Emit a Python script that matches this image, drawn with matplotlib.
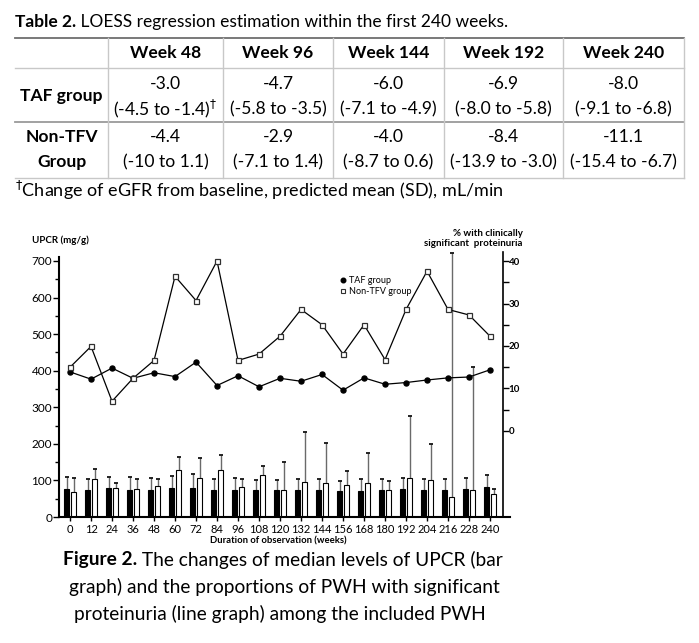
import numpy as np
import matplotlib
matplotlib.use('Agg')
import matplotlib.pyplot as plt
from matplotlib.lines import Line2D
from matplotlib.ticker import MultipleLocator, FixedLocator

plt.rcParams['font.family'] = ['Lato', 'DejaVu Sans']
plt.rcParams['mathtext.fontset'] = 'dejavusans'

# ---- table data ----
col_headers = ['Week 48', 'Week 96', 'Week 144', 'Week 192', 'Week 240']
taf_est = ['-3.0', '-4.7', '-6.0', '-6.9', '-8.0']
taf_ci = ['(-4.5 to -1.4)', '(-5.8 to -3.5)', '(-7.1 to -4.9)', '(-8.0 to -5.8)', '(-9.1 to -6.8)']
non_est = ['-4.4', '-2.9', '-4.0', '-8.4', '-11.1']
non_ci = ['(-10 to 1.1)', '(-7.1 to 1.4)', '(-8.7 to 0.6)', '(-13.9 to -3.0)', '(-15.4 to -6.7)']

# ---- chart data ----
weeks = np.array([0, 12, 24, 36, 48, 60, 72, 84, 96, 108, 120, 132, 144, 156, 168, 180, 192, 204, 216, 228, 240])
taf_upcr = [77, 75, 79, 75, 74, 78, 78, 75, 75, 75, 74, 74, 74, 72, 71, 75, 77, 74, 75, 76, 82]
taf_upcr_err = [109, 104, 109, 109, 106, 112, 118, 104, 106, 101, 101, 104, 104, 98, 104, 105, 107, 104, 104, 108, 116]
non_upcr = [68, 103, 80, 77, 85, 129, 106, 129, 83, 115, 73, 96, 94, 87, 93, 74, 106, 102, 55, 73, 63]
non_upcr_err = [106, 131, 94, 104, 104, 164, 161, 170, 104, 139, 150, 232, 202, 125, 175, 98, 275, 200, 722, 409, 77]
taf_pct = [13.9, 12.2, 14.8, 12.4, 13.7, 12.8, 16.2, 10.7, 13.0, 10.4, 12.4, 11.7, 13.3, 9.6, 12.5, 11.0, 11.4, 12.0, 12.5, 12.7, 14.4]
non_pct = [15.0, 19.9, 7.0, 12.4, 16.6, 36.4, 30.7, 40.0, 16.6, 18.1, 22.3, 28.6, 25.0, 18.1, 25.0, 16.8, 28.6, 37.6, 28.6, 27.3, 22.3]

W, H = 699, 643
fig = plt.figure(figsize=(W / 100, H / 100), dpi=100)
bg = fig.add_axes([0, 0, 1, 1])
bg.set_xlim(0, W)
bg.set_ylim(H, 0)
bg.axis('off')
renderer = fig.canvas.get_renderer()


def rich_line(x, y, parts, size, ha='left'):
    # parts: list of (text, weight); draws them side by side
    widths = []
    arts = []
    for txt, wt in parts:
        t = bg.text(0, y, txt, fontsize=size, fontweight=wt, va='center', ha='left')
        bb = t.get_window_extent(renderer)
        widths.append(bb.width)
        arts.append(t)
    total = sum(widths)
    x0 = x - total / 2 if ha == 'center' else x
    for t, w in zip(arts, widths):
        t.set_x(x0)
        x0 += w


# ---- table ----
rich_line(15, 22, [('Table 2.', 'bold'), (' LOESS regression estimation within the first 240 weeks.', 'normal')], 12.5)

xs = [15, 108, 223, 333, 444, 563, 684]
light = '#c8c8c8'
dark = '#6e6e6e'
bg.plot([15, 684], [38, 38], color=dark, lw=1.3)
bg.plot([15, 684], [68, 68], color=light, lw=1)
bg.plot([15, 684], [122, 122], color='#9a9a9a', lw=1.3)
bg.plot([15, 684], [178, 178], color=light, lw=1)
for xv in xs[1:]:
    bg.plot([xv, xv], [38, 178], color=light, lw=1)

tsize = 12.6
for i in range(5):
    cx = (xs[i + 1] + xs[i + 2]) / 2
    bg.text(cx, 53, col_headers[i], fontsize=tsize, fontweight='bold', ha='center', va='center')
    bg.text(cx, 84, taf_est[i], fontsize=tsize, ha='center', va='center')
    ci = taf_ci[i] + ('$^{\\dagger}$' if i == 0 else '')
    bg.text(cx, 109, ci, fontsize=tsize, ha='center', va='center')
    bg.text(cx, 137, non_est[i], fontsize=tsize, ha='center', va='center')
    bg.text(cx, 162, non_ci[i], fontsize=tsize, ha='center', va='center')

c0 = (xs[0] + xs[1]) / 2
bg.text(c0, 96, 'TAF group', fontsize=tsize, fontweight='bold', ha='center', va='center')
bg.text(c0, 137, 'Non-TFV', fontsize=tsize, fontweight='bold', ha='center', va='center')
bg.text(c0, 162, 'Group', fontsize=tsize, fontweight='bold', ha='center', va='center')
bg.text(15, 190, '$^{\\dagger}$Change of eGFR from baseline, predicted mean (SD), mL/min',
        fontsize=13, ha='left', va='center')

# ---- chart ----
ax = fig.add_axes([59 / W, 1 - 517 / H, (510 - 59) / W, (517 - 252) / H])
ax.set_xlim(-6.3, 251.4)
ax.set_ylim(0, 724.6)

ax.bar(weeks - 2, taf_upcr, width=2.9, color='black', edgecolor='black', lw=0.8, zorder=2)
ax.bar(weeks + 2, non_upcr, width=2.9, color='white', edgecolor='black', lw=0.8, zorder=2)
ax.vlines(weeks - 2, taf_upcr, taf_upcr_err, color='#6a6a6a', lw=1, zorder=1)
ax.vlines(weeks + 2, non_upcr, non_upcr_err, color='#6a6a6a', lw=1, zorder=1)
ax.plot(weeks - 2, taf_upcr_err, ls='none', marker='_', ms=3.5, mew=1.2, color='black')
ax.plot(weeks + 2, non_upcr_err, ls='none', marker='_', ms=3.5, mew=1.2, color='black')

for s in ['top', 'right']:
    ax.spines[s].set_visible(False)
ax.spines['left'].set_bounds(0, 710)
ax.spines['left'].set_linewidth(1.5)
ax.spines['bottom'].set_linewidth(1.5)
ax.yaxis.set_major_locator(MultipleLocator(100))
ax.yaxis.set_minor_locator(MultipleLocator(50))
ax.set_yticks(np.arange(0, 701, 100))
ax.tick_params(axis='y', which='major', length=4, width=1, labelsize=8.5, pad=1)
ax.tick_params(axis='y', which='minor', length=3, width=1)
ax.set_xticks(weeks)
ax.tick_params(axis='x', length=3, width=1, labelsize=8, pad=2)

ax2 = ax.twinx()
ax2.set_ylim(-20.24, 42.12)
for s in ['top', 'left', 'bottom']:
    ax2.spines[s].set_visible(False)
ax2.spines['right'].set_position(('axes', (503 - 59) / (510 - 59)))
ax2.spines['right'].set_linewidth(1.2)
ax2.yaxis.set_major_locator(FixedLocator([0, 10, 20, 30, 40]))
ax2.yaxis.set_minor_locator(FixedLocator([5, 15, 25, 35]))
ax2.tick_params(axis='y', which='both', length=4, width=1, labelsize=7, pad=0)
for lab in ax2.get_yticklabels():
    lab.set_fontweight('bold')

ax2.plot(weeks, taf_pct, color='black', lw=0.9, marker='o', ms=3.6)
ax2.plot(weeks, non_pct, color='black', lw=0.9, marker='s', ms=3.6, mfc='white', mec='#303030', mew=0.9)

handles = [Line2D([], [], ls='none', marker='o', ms=3.3, color='black'),
           Line2D([], [], ls='none', marker='s', ms=3.3, mfc='white', mec='#303030', mew=0.8)]
ax2.legend(handles, ['TAF group', 'Non-TFV group'], loc='upper left',
           bbox_to_anchor=(340 / W, 1 - 276 / H), bbox_transform=fig.transFigure,
           frameon=False, fontsize=6.5, handlelength=0.6, handletextpad=0.4,
           labelspacing=0.2, borderpad=0, borderaxespad=0)

bg.text(32, 240, 'UPCR (mg/g)', fontsize=7, fontweight='bold', va='center', ha='left')
bg.text(523, 233, '% with clinically', fontsize=7, fontweight='bold', va='center', ha='right')
bg.text(523, 244, 'significant  proteinuria', fontsize=7, fontweight='bold', va='center', ha='right')
bg.text(278, 541, 'Duration of observation (weeks)', fontsize=6.8, fontweight='bold', va='center', ha='center')

# ---- caption ----
csize = 13.8
rich_line(283, 560, [('Figure 2.', 'bold'), (' The changes of median levels of UPCR (bar', 'normal')], csize, ha='center')
bg.text(284, 587, 'graph) and the proportions of PWH with significant', fontsize=csize, ha='center', va='center')
bg.text(280, 614, 'proteinuria (line graph) among the included PWH', fontsize=csize, ha='center', va='center')

fig.savefig('out.png', dpi=100)
